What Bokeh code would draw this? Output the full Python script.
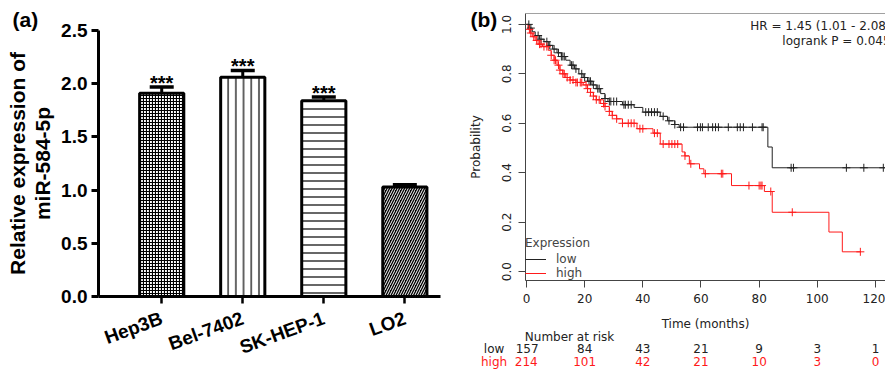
import numpy as np
from math import pi
from bokeh.plotting import figure
from bokeh.layouts import row
from bokeh.models import (ColumnDataSource, Range1d, FixedTicker, NumeralTickFormatter,
                          Legend, LegendItem, Whisker, TeeHead, Span, LinearAxis, Title)
from bokeh.core.properties import value
from bokeh.embed import file_html
from bokeh.resources import INLINE

# ---------------- data: panel (a) ----------------
cell_lines = ["Hep3B", "Bel-7402", "SK-HEP-1", "LO2"]
rel_expression = [1.91, 2.06, 1.84, 1.03]
expression_err = [0.06, 0.065, 0.035, 0.02]
significance = ["***", "***", "***", ""]
a_yticks = [0.0, 0.5, 1.0, 1.5, 2.0, 2.5]

# ---------------- data: panel (b) ----------------
low_event_time = [0, 1, 2, 3, 4.5, 6, 7.5, 9, 10.5, 12, 13.5, 15, 16.5, 18, 19.5, 21,
                  22.5, 24, 25.5, 27, 28, 33, 37, 40, 46, 48.5, 51, 52.5, 83, 84.5]
low_surv = [1.0, 0.985, 0.97, 0.955, 0.94, 0.93, 0.915, 0.9, 0.885, 0.87, 0.855, 0.835,
            0.82, 0.80, 0.785, 0.77, 0.755, 0.74, 0.72, 0.70, 0.688, 0.675, 0.664, 0.645,
            0.628, 0.61, 0.595, 0.584, 0.504, 0.42]
low_last_followup = 123.5
low_censor = [0.8, 1.5, 4, 5, 7, 8, 9.5, 11, 12, 12.5, 13, 15.5, 16, 17, 19, 20, 21.5, 22,
              23, 24.5, 25, 27, 28.5, 29, 30, 31, 33.5, 34, 35, 36, 41, 42, 43, 44, 45, 47,
              49, 51, 53, 54, 58.8, 59.8, 60.5, 62.5, 64, 65, 66, 69.4, 72.5, 73.5, 74.6,
              77.7, 81, 81.4, 91, 91.8, 110, 116, 122.7]

high_event_time = [0, 0.5, 1.2, 2, 3, 4, 5.5, 7.5, 8.5, 9.5, 10.5, 11.5, 12.5, 13.5, 15,
                   17, 19.5, 21, 22, 23, 24, 25.5, 27, 28.5, 29.5, 31, 33, 38, 43.5, 46,
                   53.5, 54.5, 56, 59.5, 61, 70.5, 81.8, 84.5, 104, 108.6]
high_surv = [1.0, 0.98, 0.965, 0.95, 0.935, 0.92, 0.91, 0.895, 0.875, 0.855, 0.835, 0.815,
             0.80, 0.785, 0.775, 0.765, 0.755, 0.74, 0.725, 0.71, 0.695, 0.68, 0.668,
             0.648, 0.632, 0.618, 0.60, 0.578, 0.56, 0.516, 0.484, 0.468, 0.436, 0.416,
             0.396, 0.348, 0.324, 0.24, 0.16, 0.08]
high_last_followup = 115
high_censor = [1, 1.5, 2.5, 3.5, 4.5, 5, 6, 7, 8.5, 9.5, 10, 11, 11.5, 12.5, 13, 14, 15,
               16, 17, 17.5, 18.5, 19, 20.5, 21, 22, 23, 24, 25, 26.5, 27, 28.5, 29.5, 31,
               33, 35, 36, 37, 39, 40, 44, 45, 47, 49, 50, 51, 52, 54.5, 56.5, 61.5, 67,
               67.5, 76.5, 80, 80.6, 81, 84, 91.4, 114.8]

risk_groups = ["low", "high"]
risk_times = [0, 20, 40, 60, 80, 100, 120]
low_at_risk = [157, 84, 43, 21, 9, 3, 1]
high_at_risk = [214, 101, 42, 21, 10, 3, 0]
b_xticks = [0, 20, 40, 60, 80, 100, 120]
b_yticks = [0.0, 0.2, 0.4, 0.6, 0.8, 1.0]

SANS = "Liberation Sans"
KMF = "DejaVu Sans"
NB = "\u00a0"


def try_set(model, name, val):
    if name in model.properties():
        try:
            setattr(model, name, val)
        except Exception:
            pass


# ================= panel (a) =================
pos = list(range(len(cell_lines)))
upper = [v + e for v, e in zip(rel_expression, expression_err)]
src_a = ColumnDataSource(dict(
    x=pos, top=rel_expression, upper=upper, sig=significance,
    fill=["white", "white", "white", "black"],
    hatch=["+", "|", "-", "/"],
    hatch_color=["black", "black", "black", "white"],
    hatch_scale=[3.0, 7.7, 8.0, 5.0],
    hatch_weight=[1.2, 1.2, 1.2, 1.0],
))

# panel (a) canvas reaches 37 px under panel (b)'s transparent border so that
# the "(b)" tag can sit left of panel (b)'s axis
pa = figure(width=500, height=371, x_range=Range1d(-0.78, 3.44), y_range=Range1d(0, 2.5),
            output_backend="svg", toolbar_location=None,
            min_border_left=98, min_border_right=60, min_border_top=30, min_border_bottom=75)
pa.outline_line_color = None
pa.grid.visible = False
pa.margin = (0, -37, 0, 0)
try_set(pa, "frame_align", False)

pa.vbar(x="x", top="top", bottom=0, width=0.545, source=src_a,
        fill_color="fill", line_color="black", line_width=3,
        hatch_pattern="hatch", hatch_color="hatch_color",
        hatch_scale="hatch_scale", hatch_weight="hatch_weight")

whisk = Whisker(base="x", lower="top", upper="upper", source=src_a,
                line_width=3, line_color="black",
                upper_head=TeeHead(size=24, line_width=3.5, line_color="black"),
                lower_head=None)
pa.add_layout(whisk)

pa.text(x="x", y="upper", text="sig", source=src_a, text_align="center",
        text_baseline="alphabetic", y_offset=-4, text_font=value(SANS),
        text_font_style="bold", text_font_size="20px", text_color="black")

ya = pa.yaxis[0]
ya.ticker = FixedTicker(ticks=a_yticks)
ya.formatter = NumeralTickFormatter(format="0.0")
ya.axis_line_width = 3
ya.major_tick_line_width = 3
ya.major_tick_out = 7
ya.major_tick_in = 0
ya.minor_tick_line_color = None
ya.major_label_text_font = SANS
ya.major_label_text_font_style = "bold"
ya.major_label_text_font_size = "19px"
ya.major_label_text_color = "black"
ya.major_label_standoff = 4
ya.axis_label = "Relative expression of\nmiR-584-5p"
ya.axis_label_text_font = SANS
ya.axis_label_text_font_style = "bold"
ya.axis_label_text_font_size = "21px"
ya.axis_label_text_color = "black"
ya.axis_label_text_line_height = 1.1
ya.axis_label_standoff = 4

xa = pa.xaxis[0]
xa.ticker = FixedTicker(ticks=pos)
xa.major_label_overrides = {i: c for i, c in zip(pos, cell_lines)}
xa.major_label_orientation = 0.35
xa.axis_line_width = 3
xa.major_tick_line_width = 2.5
xa.major_tick_out = 7
xa.major_tick_in = 0
xa.minor_tick_line_color = None
xa.major_label_text_font = SANS
xa.major_label_text_font_style = "bold"
xa.major_label_text_font_size = "19px"
xa.major_label_text_color = "black"
xa.major_label_standoff = 14

pa.add_layout(Title(text="(a)", align="left", offset=-86, standoff=0,
                    text_font=SANS, text_font_style="bold", text_font_size="21px",
                    text_color="black"), "above")

# "(b)" panel tag: a label-only axis on the right of panel (a)
tag_axis = LinearAxis(ticker=FixedTicker(ticks=[2.5]),
                      major_label_overrides={2.5: "(b)\n" + NB},
                      axis_line_color=None, major_tick_line_color=None,
                      minor_tick_line_color=None, major_tick_out=0, major_tick_in=0,
                      major_label_standoff=30, major_label_orientation="horizontal",
                      major_label_text_font=SANS, major_label_text_font_style="bold",
                      major_label_text_font_size="21px", major_label_text_color="black",
                      major_label_text_line_height=1.0)
pa.add_layout(tag_axis, "right")

# ================= panel (b) =================
def step_value(times, surv, t):
    idx = np.searchsorted(np.asarray(times), np.asarray(t), side="right") - 1
    return np.asarray(surv)[idx]

pb = figure(width=422, height=371, x_range=Range1d(-0.34, 123.45), y_range=Range1d(-0.036, 1.044),
            output_backend="svg", toolbar_location=None,
            min_border_left=62, min_border_right=0, min_border_top=13, min_border_bottom=88)
pb.outline_line_color = None
pb.border_fill_color = None
pb.grid.visible = False
try_set(pb, "frame_align", False)

LOW_C = "#222222"
HIGH_C = "#ff1a1a"

r_low = pb.step(x=low_event_time + [low_last_followup], y=low_surv + [low_surv[-1]],
                mode="after", line_color=LOW_C, line_width=1)
r_high = pb.step(x=high_event_time + [high_last_followup], y=high_surv + [high_surv[-1]],
                 mode="after", line_color=HIGH_C, line_width=1)
pb.scatter(low_censor, step_value(low_event_time, low_surv, low_censor), marker="cross",
           size=8, line_color=LOW_C, line_width=1)
pb.scatter(high_censor, step_value(high_event_time, high_surv, high_censor), marker="cross",
           size=8, line_color=HIGH_C, line_width=1)

pb.add_layout(Span(location=1.044, dimension="width", line_color="#444444", line_width=1))

xb = pb.xaxis[0]
yb = pb.yaxis[0]
for ax in (xb, yb):
    ax.axis_line_color = "#444444"
    ax.major_tick_line_color = "#444444"
    ax.major_tick_out = 7
    ax.major_tick_in = 0
    ax.minor_tick_line_color = None
    ax.major_label_text_font = KMF
    ax.major_label_text_font_size = "12px"
    ax.major_label_text_color = "#222222"

xb.ticker = FixedTicker(ticks=b_xticks)
xb.major_label_standoff = 6
xb.axis_label = "Time (months)"
xb.axis_label_text_font = KMF
xb.axis_label_text_font_size = "12px"
xb.axis_label_text_font_style = "normal"
xb.axis_label_text_color = "#222222"
xb.axis_label_standoff = 11

yb.ticker = FixedTicker(ticks=b_yticks)
yb.formatter = NumeralTickFormatter(format="0.0")
yb.major_label_orientation = "vertical"
yb.major_label_standoff = 7
yb.axis_label = "Probability"
yb.axis_label_text_font = KMF
yb.axis_label_text_font_size = "12px"
yb.axis_label_text_font_style = "normal"
yb.axis_label_text_color = "#222222"
yb.axis_label_standoff = 17


def label_axis(ticks, labels, color, standoff):
    return LinearAxis(ticker=FixedTicker(ticks=ticks),
                      major_label_overrides={t: s for t, s in zip(ticks, labels)},
                      axis_line_color=None, major_tick_line_color=None,
                      minor_tick_line_color=None, major_tick_out=0, major_tick_in=0,
                      major_label_standoff=standoff,
                      major_label_text_font=KMF, major_label_text_font_size="12px",
                      major_label_text_color=color)


def risk_labels(group, counts, gap, pad):
    # first entry carries the row name to the left of the count, padded so the
    # count itself stays centred on its tick
    out = [str(n) for n in counts]
    out[0] = group + NB * gap + out[0] + NB * pad
    return out


pb.add_layout(label_axis([14.8], ["Number at risk"], "#222222", -4), "below")
pb.add_layout(label_axis(risk_times, risk_labels(risk_groups[0], low_at_risk, 3, 8),
                         "#222222", -5), "below")
pb.add_layout(label_axis(risk_times, risk_labels(risk_groups[1], high_at_risk, 2, 9),
                         HIGH_C, -4), "below")

legend = Legend(items=[LegendItem(label="low", renderers=[r_low]),
                       LegendItem(label="high", renderers=[r_high])],
                title="Expression", location="bottom_left", margin=0, padding=6,
                spacing=0, glyph_width=21, glyph_height=12, label_height=12,
                label_standoff=10, title_standoff=2,
                border_line_color=None, background_fill_alpha=0,
                label_text_font=KMF, label_text_font_size="12px",
                title_text_font=KMF, title_text_font_size="12px",
                title_text_font_style="normal")
try:
    legend.spacing = -3
except Exception:
    pass
pb.add_layout(legend)

pb.text(x=[125.2, 125.2], y=[0.992, 0.932],
        text=["HR = 1.45 (1.01 - 2.08)", "logrank P = 0.045"],
        text_align="right", text_baseline="middle", text_font=value(KMF),
        text_font_size="12px", text_color="#222222")

layout = row(pa, pb)
open("out.html", "w").write(file_html(layout, INLINE))
